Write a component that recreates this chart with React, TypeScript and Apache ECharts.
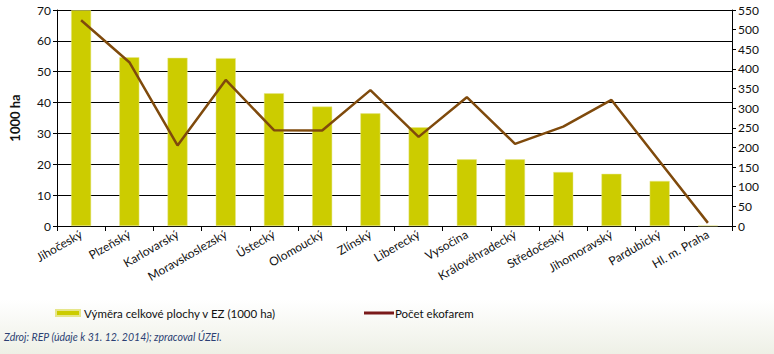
import React, { useEffect, useRef } from "react";
import * as echarts from "echarts";

const categories = [
  "Jihočeský", "Plzeňský", "Karlovarský", "Moravskoslezský", "Ústecký", "Olomoucký", "Zlínský",
  "Liberecký", "Vysočina", "Královéhradecký", "Středočeský", "Jihomoravský", "Pardubický", "Hl. m. Praha",
];
const areaValues = [69.9, 54.7, 54.5, 54.4, 43.0, 38.7, 36.5, 32.0, 21.6, 21.6, 17.5, 16.9, 14.6, 0.1];
const farmCounts = [524, 417, 205, 372, 244, 243, 346, 227, 328, 209, 253, 321, 164, 8];
const leftTicks = { min: 0, max: 70, interval: 10 };
const rightTicks = { min: 0, max: 550, interval: 50 };

const FONT = "Lato, 'Open Sans', sans-serif";

export default function App() {
  const ref = useRef<HTMLDivElement>(null);
  useEffect(() => {
    if (!ref.current) return;
    const chart = echarts.init(ref.current, null, { renderer: "svg" });
    chart.setOption({
      animation: false,
      backgroundColor: "#ffffff",
      textStyle: { fontFamily: FONT },
      grid: { left: 53, right: 42, top: 10, bottom: 128, containLabel: false },
      graphic: [
        {
          type: "rect",
          left: 0,
          top: 300,
          z: -10,
          shape: { width: 774, height: 54 },
          style: {
            fill: new echarts.graphic.LinearGradient(0, 0, 0, 1, [
              { offset: 0, color: "#ffffff" },
              { offset: 1, color: "#eef0e6" },
            ]),
          },
          silent: true,
        },
        {
          type: "text",
          left: 4,
          top: 331,
          style: {
            text: "Zdroj: REP (údaje k 31. 12. 2014); zpracoval ÚZEI.",
            font: `italic 10.5px ${FONT}`,
            fill: "#2b3f73",
          },
        },
      ],
      legend: [
        {
          left: 50,
          top: 302,
          itemWidth: 24,
          itemHeight: 6,
          itemGap: 4,
          data: [{ name: "Výměra celkové plochy v EZ (1000 ha)", icon: "rect" }],
          textStyle: { fontFamily: FONT, fontSize: 11.5, color: "#111111", padding: [0, 0, 0, -1] },
        },
        {
          left: 359,
          top: 302,
          itemWidth: 30,
          itemHeight: 3,
          data: [
            {
              name: "Počet ekofarem",
              icon: "rect",
              itemStyle: { color: "#7a1a1a" },
              lineStyle: { color: "#7a1a1a" },
            },
          ],
          itemStyle: { color: "#7a1a1a" },
          lineStyle: { color: "#7a1a1a" },
          textStyle: { fontFamily: FONT, fontSize: 11.5, color: "#111111", padding: [0, 0, 0, -4] },
        },
      ],
      xAxis: {
        type: "category",
        data: categories,
        axisLine: { lineStyle: { color: "#000000", width: 1 } },
        axisTick: { show: true, length: 5, lineStyle: { color: "#000000" } },
        axisLabel: {
          interval: 0,
          rotate: 30,
          fontSize: 12,
          color: "#111111",
          fontFamily: FONT,
          margin: 7,
        },
      },
      yAxis: [
        {
          type: "value",
          min: leftTicks.min,
          max: leftTicks.max,
          interval: leftTicks.interval,
          name: "1000 ha",
          nameLocation: "middle",
          nameGap: 36,
          nameTextStyle: { fontSize: 13, fontWeight: "bold", color: "#111111", fontFamily: FONT },
          axisLine: { show: true, lineStyle: { color: "#000000" } },
          axisTick: { show: true, length: 4, lineStyle: { color: "#000000" } },
          axisLabel: { fontSize: 12, color: "#111111", margin: 6 },
          splitLine: { show: true, lineStyle: { color: "#000000", width: 1 } },
        },
        {
          type: "value",
          min: rightTicks.min,
          max: rightTicks.max,
          interval: rightTicks.interval,
          position: "right",
          axisLine: { show: true, lineStyle: { color: "#000000" } },
          axisTick: { show: true, length: 4, lineStyle: { color: "#000000" } },
          axisLabel: { fontSize: 12, color: "#111111", margin: 6 },
          splitLine: { show: false },
        },
      ],
      series: [
        {
          name: "Výměra celkové plochy v EZ (1000 ha)",
          type: "bar",
          data: areaValues,
          barWidth: 20,
          yAxisIndex: 0,
          itemStyle: { color: "#cccc00", borderColor: "#e6e68a", borderWidth: 0.5 },
        },
        {
          name: "Počet ekofarem",
          type: "line",
          data: farmCounts,
          yAxisIndex: 1,
          symbol: "none",
          lineStyle: { color: "#7f4a0c", width: 2.5 },
          itemStyle: { color: "#7a1a1a" },
        },
      ],
    });
    return () => chart.dispose();
  }, []);
  return <div ref={ref} style={{ width: 774, height: 354, position: "absolute", left: 0, top: 0 }} />;
}
